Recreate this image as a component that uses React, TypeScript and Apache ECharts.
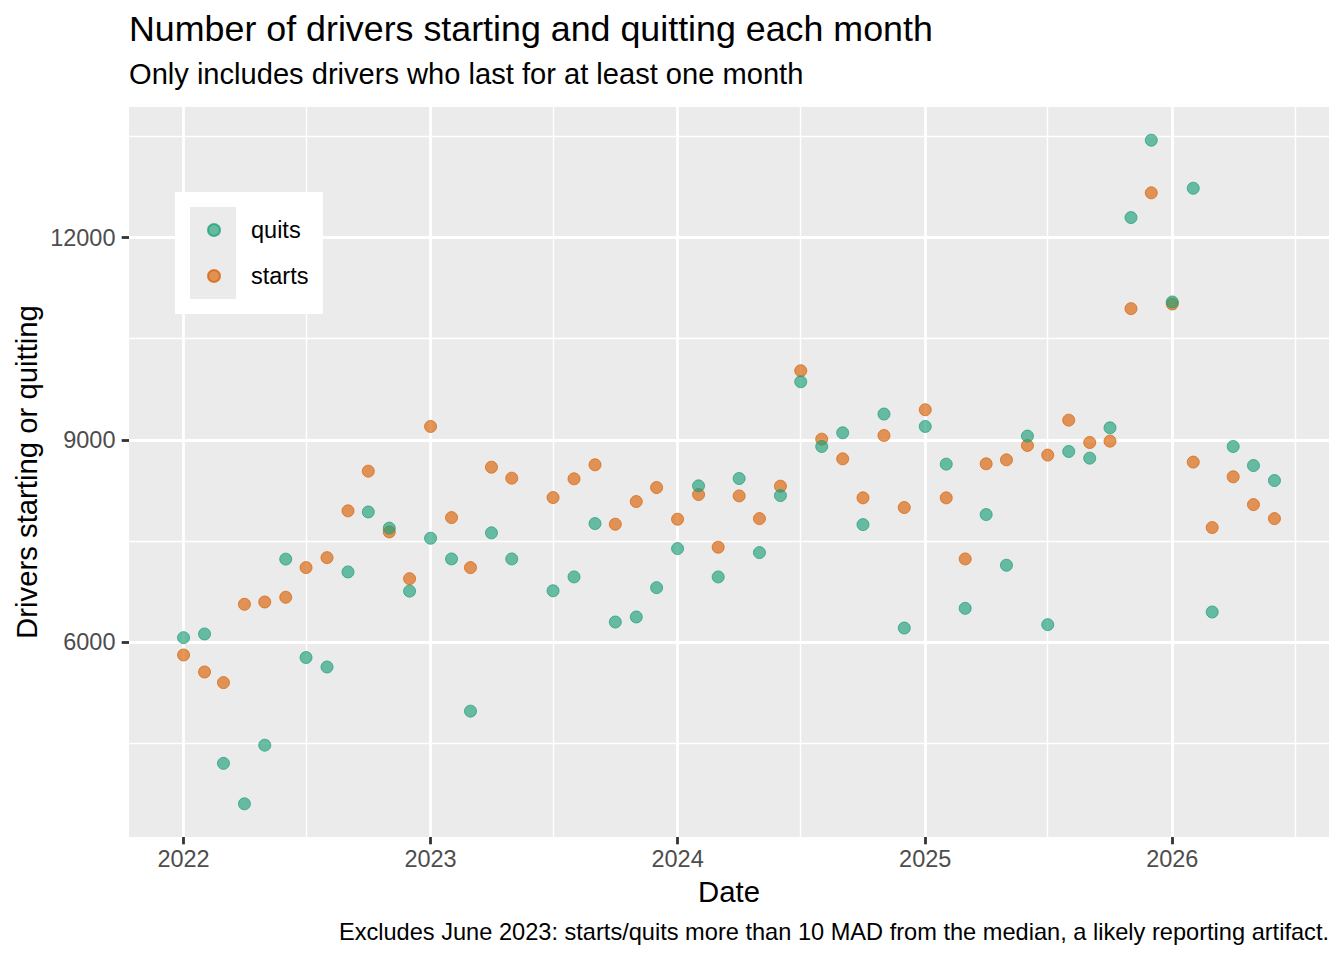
import React, { useEffect, useRef } from "react";
import * as echarts from "echarts";

// Months (June 2023 excluded as in the source)
const months = [
  "2022-01", "2022-02", "2022-03", "2022-04", "2022-05", "2022-06",
  "2022-07", "2022-08", "2022-09", "2022-10", "2022-11", "2022-12",
  "2023-01", "2023-02", "2023-03", "2023-04", "2023-05",
  "2023-07", "2023-08", "2023-09", "2023-10", "2023-11", "2023-12",
  "2024-01", "2024-02", "2024-03", "2024-04", "2024-05", "2024-06",
  "2024-07", "2024-08", "2024-09", "2024-10", "2024-11", "2024-12",
  "2025-01", "2025-02", "2025-03", "2025-04", "2025-05", "2025-06",
  "2025-07", "2025-08", "2025-09", "2025-10", "2025-11", "2025-12",
  "2026-01", "2026-02", "2026-03", "2026-04", "2026-05", "2026-06",
];

const quits = [
  6065, 6120, 4200, 3600, 4470, 7230, 5770, 5630, 7040, 7930, 7690, 6755,
  7540, 7233, 4975, 7620, 7233,
  6760, 6966, 7757, 6297, 6372, 6807,
  7386, 8317, 6966, 8426, 7327, 8173, 9861, 8901, 9104, 7742, 9382, 6208,
  9198, 8639, 6500, 7891, 7139, 9055, 6258, 8827, 8728, 9178, 12297, 13445,
  11045, 12732, 6446, 8901, 8618, 8396,
];

const starts = [
  5808, 5556, 5398, 6560, 6594, 6664, 7104, 7252, 7946, 8535, 7634, 6940,
  9198, 7846, 7104, 8594, 8431,
  8143, 8421, 8629, 7748, 8084, 8292,
  7822, 8188, 7407, 8168, 7831, 8312, 10025, 9010, 8718, 8139, 9064, 7995,
  9446, 8139, 7233, 8644, 8703, 8916, 8773, 9292, 8960, 8980, 10946, 12664,
  11015, 8669, 7698, 8451, 8039, 7831,
];

const xMajorTicks = ["2022-01", "2023-01", "2024-01", "2025-01", "2026-01"];
const xMinorTicks = ["2022-07", "2023-07", "2024-07", "2025-07", "2026-07"];
const yMajorTicks = [6000, 9000, 12000];
const yMinorTicks = [4500, 7500, 10500, 13500];

const FONT = "'Liberation Sans', Arial, Helvetica, sans-serif";
const toTs = (s: string) => {
  const [y, m] = s.split("-").map(Number);
  return Date.UTC(y, m - 1, 1);
};
const expand = (lo: number, hi: number) => {
  const pad = (hi - lo) * 0.05;
  return [lo - pad, hi + pad];
};

export default function App() {
  const ref = useRef<HTMLDivElement>(null);

  useEffect(() => {
    if (!ref.current) return;
    const chart = echarts.init(ref.current, undefined, { renderer: "svg" });

    const xs = months.map(toTs);
    const [xMin, xMax] = expand(Math.min(...xs), Math.max(...xs));
    const allY = [...quits, ...starts];
    const [yMin, yMax] = expand(Math.min(...allY), Math.max(...allY));

    const majorX = xMajorTicks.map(toTs);
    const minorX = xMinorTicks.map(toTs).filter((v) => v <= xMax);

    const tickLine = { color: "#333333", width: 2.8 };
    const labelStyle = { color: "#4d4d4d", fontSize: 23.5, fontFamily: FONT };

    chart.setOption({
      animation: false,
      backgroundColor: "#ffffff",
      grid: {
        left: 129,
        top: 107,
        right: 15,
        bottom: 123,
        show: true,
        backgroundColor: "#ebebeb",
        borderWidth: 0,
        containLabel: false,
        outerBoundsMode: "none",
      },
      xAxis: [
        {
          type: "value",
          min: xMin,
          max: xMax,
          axisLine: { show: false },
          axisTick: { show: true, length: 7.3, lineStyle: tickLine, customValues: majorX },
          axisLabel: {
            ...labelStyle,
            margin: 10,
            customValues: majorX,
            formatter: (v: number) => String(new Date(v).getUTCFullYear()),
          },
          splitLine: { show: true, lineStyle: { color: "#ffffff", width: 2.8 } },
        },
        {
          type: "value",
          min: xMin,
          max: xMax,
          position: "bottom",
          axisLine: { show: false },
          axisTick: { show: false, customValues: minorX },
          axisLabel: { show: false, customValues: minorX },
          splitLine: { show: true, lineStyle: { color: "#ffffff", width: 1.4 } },
        },
      ],
      yAxis: [
        {
          type: "value",
          min: yMin,
          max: yMax,
          axisLine: { show: false },
          axisTick: { show: true, length: 7.3, lineStyle: tickLine, customValues: yMajorTicks },
          axisLabel: {
            ...labelStyle,
            margin: 13.5,
            customValues: yMajorTicks,
            formatter: (v: number) => String(Math.round(v)),
          },
          splitLine: { show: true, lineStyle: { color: "#ffffff", width: 2.8 } },
        },
        {
          type: "value",
          min: yMin,
          max: yMax,
          position: "left",
          axisLine: { show: false },
          axisTick: { show: false, customValues: yMinorTicks },
          axisLabel: { show: false, customValues: yMinorTicks },
          splitLine: { show: true, lineStyle: { color: "#ffffff", width: 1.4 } },
        },
      ],
      legend: {
        data: ["quits", "starts"],
        orient: "vertical",
        left: 207,
        top: 218,
        padding: 0,
        itemWidth: 12,
        itemHeight: 12,
        itemGap: 22,
        icon: "circle",
        z: 5,
        textStyle: { fontSize: 23.5, color: "#000000", fontFamily: FONT, padding: [0, 0, 0, 26] },
      },
      graphic: [
        { type: "rect", z: 3, shape: { x: 175, y: 192, width: 148, height: 122 }, style: { fill: "#ffffff" } },
        { type: "rect", z: 4, shape: { x: 190, y: 207, width: 46, height: 92 }, style: { fill: "#ebebeb" } },
        {
          type: "text", x: 129, y: 28.8,
          style: { text: "Number of drivers starting and quitting each month", fontSize: 35.8, fontFamily: FONT, fill: "#000000", align: "left", verticalAlign: "middle" },
        },
        {
          type: "text", x: 129, y: 73.8,
          style: { text: "Only includes drivers who last for at least one month", fontSize: 29.1, fontFamily: FONT, fill: "#000000", align: "left", verticalAlign: "middle" },
        },
        {
          type: "text", x: 729, y: 891,
          style: { text: "Date", fontSize: 29.3, fontFamily: FONT, fill: "#000000", align: "center", verticalAlign: "middle" },
        },
        {
          type: "text", x: 26, y: 472, rotation: Math.PI / 2,
          style: { text: "Drivers starting or quitting", fontSize: 29.3, fontFamily: FONT, fill: "#000000", align: "center", verticalAlign: "middle" },
        },
        {
          type: "text", x: 1329, y: 932,
          style: { text: "Excludes June 2023: starts/quits more than 10 MAD from the median, a likely reporting artifact.", fontSize: 23.6, fontFamily: FONT, fill: "#000000", align: "right", verticalAlign: "middle" },
        },
      ],
      series: [
        {
          name: "starts",
          type: "scatter",
          xAxisIndex: 0,
          yAxisIndex: 0,
          symbol: "circle",
          symbolSize: 12,
          data: xs.map((x, i) => [x, starts[i]]),
          itemStyle: { color: "rgba(217,95,2,0.8)", borderColor: "rgba(217,95,2,0.9)", borderWidth: 1 },
          emphasis: { disabled: true },
          z: 2,
        },
        {
          name: "quits",
          type: "scatter",
          xAxisIndex: 0,
          yAxisIndex: 0,
          symbol: "circle",
          symbolSize: 12,
          data: xs.map((x, i) => [x, quits[i]]),
          itemStyle: { color: "rgba(27,158,119,0.8)", borderColor: "rgba(27,158,119,0.9)", borderWidth: 1 },
          emphasis: { disabled: true },
          z: 2,
        },
      ],
    });

    return () => chart.dispose();
  }, []);

  return (
    <div
      ref={ref}
      style={{ position: "fixed", left: 0, top: 0, width: 1344, height: 960, background: "#ffffff" }}
    />
  );
}
